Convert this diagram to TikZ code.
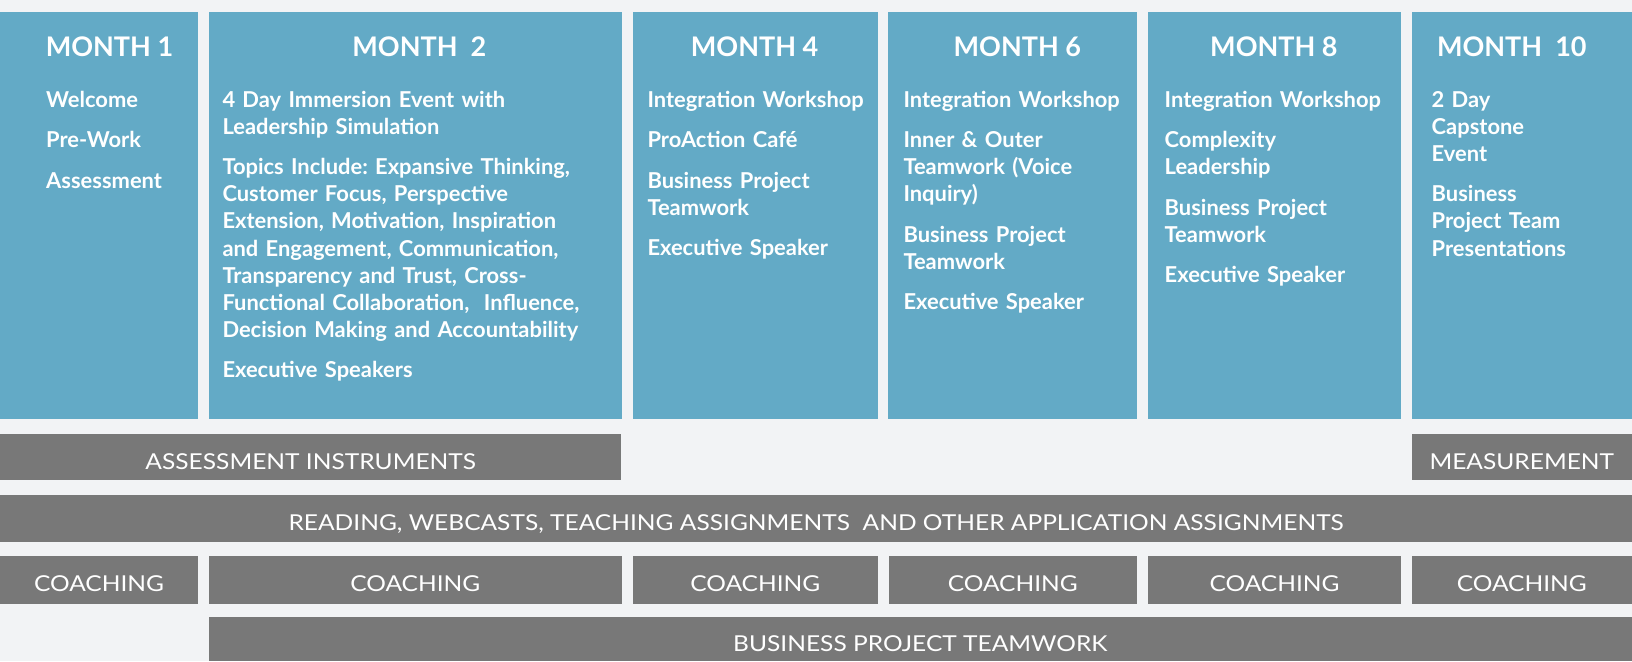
\documentclass[tikz,border=0pt]{standalone}
\usepackage{fontspec}
\setmainfont{Lato}
\newfontfamily\barfont[FakeStretch=1.12]{Lato}
\frenchspacing
\definecolor{pagebg}{HTML}{F2F3F5}
\definecolor{monthblue}{HTML}{63AAC6}
\definecolor{bargray}{HTML}{787878}
\newcommand*{\BoxTop}{12}
\newcommand*{\BoxBottom}{418.7}
\newcommand*{\ItemGap}{13.3pt}

\begin{document}
\begin{tikzpicture}[x=1pt, y=-1pt,
    month/.style={font=\bfseries\fontsize{27}{32}\selectfont, text=white, inner sep=0pt, anchor=base},
    items/.style={font=\bfseries\fontsize{21.9}{27.1}\selectfont, text=white, inner sep=0pt,
                  anchor=base west, text width=420pt, align=left},
    barlabel/.style={font=\barfont\fontsize{21.9}{26}\selectfont, text=white, inner sep=0pt, anchor=base}]
    \useasboundingbox (0,0) rectangle (1632,661);
    \fill[pagebg] (0,0) rectangle (1632,661);
    % month columns
    \foreach \l/\r in {0/198, 208.5/621.7, 632.7/877.7, 888.3/1137, 1148/1400.5, 1411.5/1632}
        \fill[monthblue] (\l,\BoxTop) rectangle (\r,\BoxBottom);
    \node[month] (m1) at (109.5,56.7) {MONTH 1};
    \node[month] (m2) at (419.4,56.7) {MONTH\ \ 2};
    \node[month] (m4) at (754.6,56.7) {MONTH 4};
    \node[month] (m6) at (1017.4,56.7) {MONTH 6};
    \node[month] (m8) at (1273.9,56.7) {MONTH 8};
    \node[month] (m10) at (1511.8,56.7) {MONTH\ \ 10};
    \node[items] (m1items) at (46,107.3) {Welcome\\[\ItemGap] Pre-Work\\[\ItemGap] Assessment};
    \node[items] (m2items) at (222.3,107.3) {4 Day Immersion Event with\\ Leadership Simulation\\[\ItemGap]
        Topics Include: Expansive Thinking,\\ Customer Focus, Perspective\\
        Extension, Motivation, Inspiration\\ and Engagement, Communication,\\
        Transparency and Trust, Cross-\\ Functional Collaboration,\ \ Influence,\\
        Decision Making and Accountability\\[\ItemGap] Executive Speakers};
    \node[items] (m4items) at (647.3,107.3) {Integration Workshop\\[\ItemGap] ProAction Café\\[\ItemGap]
        Business Project\\ Teamwork\\[\ItemGap] Executive Speaker};
    \node[items] (m6items) at (903.3,107.3) {Integration Workshop\\[\ItemGap] Inner \& Outer\\
        Teamwork (Voice\\ Inquiry)\\[\ItemGap] Business Project\\ Teamwork\\[\ItemGap] Executive Speaker};
    \node[items] (m8items) at (1164.5,107.3) {Integration Workshop\\[\ItemGap] Complexity\\ Leadership\\[\ItemGap]
        Business Project\\ Teamwork\\[\ItemGap] Executive Speaker};
    \node[items] (m10items) at (1431.5,107.3) {2 Day\\ Capstone\\ Event\\[\ItemGap]
        Business\\ Project Team\\ Presentations};
    % bars under the columns
    \fill[bargray] (0,434) rectangle (621.4,480);
    \node[barlabel] (assess) at (310.7,469) {ASSESSMENT INSTRUMENTS};
    \fill[bargray] (1411.5,434) rectangle (1632,480);
    \node[barlabel] (measure) at (1521.8,469) {MEASUREMENT};
    \fill[bargray] (0,495) rectangle (1632,541.7);
    \node[barlabel] (reading) at (816,530.4) {READING, WEBCASTS, TEACHING ASSIGNMENTS\ \ AND OTHER APPLICATION ASSIGNMENTS};
    \foreach \l/\r [count=\i] in {0/198, 208.5/622, 633/877.5, 888.5/1137, 1148/1401, 1411.5/1632} {
        \fill[bargray] (\l,556) rectangle (\r,603.7);
        \node[barlabel] (coach\i) at ({(\l+\r)/2},591.7) {COACHING};
    }
    \fill[bargray] (208.5,617) rectangle (1632,661);
    \node[barlabel] (teamwork) at (920.3,651.5) {BUSINESS PROJECT TEAMWORK};
\end{tikzpicture}
\end{document}
